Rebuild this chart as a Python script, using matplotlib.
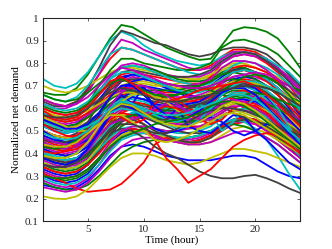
import numpy as np
import matplotlib
matplotlib.use('Agg')
import matplotlib.pyplot as plt

# hourly normalized net demand profiles, one list per day
hours = list(range(1, 25))

# MATLAB (pre-2014) line colour order: b, g, r, c, m, y, k
colors = [(0, 0, 1), (0, 0.5, 0), (1, 0, 0), (0, 0.75, 0.75),
          (0.75, 0, 0.75), (0.75, 0.75, 0), (0.25, 0.25, 0.25)]

profiles = [
    # group 1
    [0.55, 0.53, 0.52, 0.53, 0.57, 0.64, 0.70, 0.74, 0.75, 0.74, 0.72, 0.70, 0.68, 0.66, 0.65, 0.67, 0.72, 0.76, 0.77, 0.76, 0.73, 0.69, 0.64, 0.58],
    [0.67, 0.66, 0.66, 0.69, 0.75, 0.83, 0.91, 0.97, 0.96, 0.93, 0.90, 0.87, 0.85, 0.83, 0.815, 0.82, 0.88, 0.945, 0.96, 0.955, 0.94, 0.91, 0.85, 0.78],
    [0.64, 0.62, 0.61, 0.63, 0.68, 0.75, 0.82, 0.87, 0.86, 0.84, 0.82, 0.80, 0.78, 0.77, 0.77, 0.79, 0.83, 0.86, 0.86, 0.85, 0.82, 0.78, 0.73, 0.67],
    [0.73, 0.70, 0.69, 0.71, 0.76, 0.83, 0.90, 0.94, 0.92, 0.88, 0.85, 0.83, 0.81, 0.80, 0.79, 0.80, 0.83, 0.85, 0.85, 0.84, 0.81, 0.77, 0.72, 0.66],
    [0.62, 0.60, 0.60, 0.62, 0.67, 0.75, 0.84, 0.905, 0.89, 0.86, 0.84, 0.82, 0.80, 0.78, 0.77, 0.78, 0.82, 0.85, 0.85, 0.84, 0.82, 0.78, 0.74, 0.69],
    [0.70, 0.68, 0.67, 0.68, 0.70, 0.73, 0.76, 0.78, 0.78, 0.77, 0.76, 0.75, 0.74, 0.73, 0.73, 0.74, 0.77, 0.79, 0.79, 0.78, 0.76, 0.74, 0.71, 0.68],
    [0.63, 0.61, 0.61, 0.63, 0.69, 0.78, 0.88, 0.945, 0.93, 0.91, 0.89, 0.88, 0.86, 0.84, 0.83, 0.84, 0.86, 0.87, 0.87, 0.86, 0.84, 0.80, 0.75, 0.70],
    # group 2
    [0.45, 0.43, 0.42, 0.43, 0.47, 0.55, 0.65, 0.73, 0.75, 0.74, 0.71, 0.69, 0.67, 0.65, 0.64, 0.65, 0.69, 0.73, 0.74, 0.73, 0.70, 0.66, 0.60, 0.54],
    [0.58, 0.56, 0.55, 0.57, 0.62, 0.70, 0.77, 0.82, 0.82, 0.80, 0.79, 0.78, 0.77, 0.77, 0.78, 0.80, 0.87, 0.90, 0.905, 0.89, 0.87, 0.84, 0.79, 0.74],
    [0.55, 0.52, 0.51, 0.52, 0.56, 0.62, 0.69, 0.73, 0.72, 0.70, 0.68, 0.67, 0.67, 0.68, 0.70, 0.74, 0.80, 0.83, 0.84, 0.83, 0.80, 0.76, 0.70, 0.64],
    [0.66, 0.64, 0.63, 0.65, 0.70, 0.77, 0.84, 0.87, 0.86, 0.84, 0.82, 0.80, 0.78, 0.76, 0.75, 0.76, 0.80, 0.84, 0.85, 0.84, 0.82, 0.79, 0.76, 0.71],
    [0.60, 0.58, 0.57, 0.58, 0.62, 0.68, 0.74, 0.79, 0.80, 0.79, 0.77, 0.75, 0.74, 0.74, 0.74, 0.76, 0.80, 0.83, 0.84, 0.83, 0.81, 0.77, 0.73, 0.68],
    [0.54, 0.52, 0.51, 0.52, 0.56, 0.61, 0.66, 0.70, 0.71, 0.71, 0.70, 0.70, 0.71, 0.72, 0.73, 0.75, 0.78, 0.80, 0.80, 0.78, 0.76, 0.72, 0.67, 0.62],
    [0.50, 0.48, 0.47, 0.49, 0.54, 0.62, 0.70, 0.76, 0.77, 0.76, 0.75, 0.74, 0.74, 0.74, 0.75, 0.77, 0.81, 0.84, 0.85, 0.84, 0.81, 0.77, 0.72, 0.66],
    # group 3
    [0.52, 0.50, 0.49, 0.50, 0.53, 0.58, 0.64, 0.68, 0.70, 0.70, 0.69, 0.68, 0.67, 0.67, 0.68, 0.70, 0.74, 0.77, 0.78, 0.76, 0.73, 0.69, 0.63, 0.57],
    [0.66, 0.64, 0.63, 0.64, 0.67, 0.71, 0.75, 0.78, 0.79, 0.78, 0.77, 0.75, 0.73, 0.72, 0.72, 0.73, 0.76, 0.78, 0.78, 0.76, 0.74, 0.72, 0.70, 0.68],
    [0.60, 0.58, 0.57, 0.58, 0.61, 0.66, 0.71, 0.75, 0.76, 0.75, 0.74, 0.73, 0.72, 0.71, 0.71, 0.72, 0.75, 0.78, 0.79, 0.78, 0.76, 0.72, 0.67, 0.62],
    [0.58, 0.56, 0.55, 0.56, 0.60, 0.66, 0.73, 0.78, 0.79, 0.78, 0.76, 0.74, 0.72, 0.71, 0.70, 0.71, 0.75, 0.79, 0.81, 0.80, 0.78, 0.75, 0.71, 0.65],
    [0.50, 0.48, 0.47, 0.48, 0.52, 0.58, 0.66, 0.72, 0.74, 0.73, 0.72, 0.71, 0.70, 0.70, 0.71, 0.73, 0.78, 0.81, 0.81, 0.80, 0.77, 0.73, 0.68, 0.62],
    [0.48, 0.46, 0.45, 0.46, 0.50, 0.57, 0.64, 0.70, 0.72, 0.72, 0.71, 0.70, 0.69, 0.69, 0.69, 0.70, 0.73, 0.76, 0.77, 0.76, 0.74, 0.71, 0.67, 0.62],
    [0.57, 0.55, 0.54, 0.55, 0.58, 0.63, 0.68, 0.72, 0.73, 0.73, 0.72, 0.71, 0.70, 0.70, 0.70, 0.72, 0.75, 0.77, 0.77, 0.76, 0.74, 0.71, 0.68, 0.64],
    # group 4
    [0.40, 0.38, 0.37, 0.38, 0.42, 0.50, 0.60, 0.68, 0.72, 0.73, 0.72, 0.70, 0.68, 0.66, 0.65, 0.66, 0.68, 0.70, 0.70, 0.68, 0.65, 0.60, 0.55, 0.49],
    [0.47, 0.45, 0.44, 0.45, 0.48, 0.54, 0.60, 0.65, 0.67, 0.68, 0.68, 0.68, 0.68, 0.69, 0.70, 0.72, 0.75, 0.76, 0.75, 0.73, 0.70, 0.66, 0.61, 0.56],
    [0.50, 0.48, 0.47, 0.48, 0.51, 0.56, 0.62, 0.66, 0.67, 0.66, 0.65, 0.64, 0.63, 0.63, 0.63, 0.65, 0.69, 0.72, 0.73, 0.72, 0.70, 0.66, 0.61, 0.56],
    [0.45, 0.43, 0.42, 0.43, 0.46, 0.52, 0.59, 0.64, 0.66, 0.66, 0.65, 0.64, 0.63, 0.62, 0.62, 0.64, 0.68, 0.71, 0.72, 0.71, 0.68, 0.64, 0.59, 0.53],
    [0.56, 0.54, 0.53, 0.54, 0.57, 0.61, 0.65, 0.68, 0.69, 0.68, 0.67, 0.66, 0.65, 0.65, 0.66, 0.68, 0.71, 0.74, 0.75, 0.74, 0.72, 0.69, 0.65, 0.61],
    [0.42, 0.40, 0.39, 0.40, 0.44, 0.51, 0.58, 0.63, 0.65, 0.64, 0.62, 0.60, 0.58, 0.57, 0.57, 0.58, 0.62, 0.66, 0.67, 0.66, 0.64, 0.60, 0.56, 0.51],
    [0.44, 0.42, 0.41, 0.42, 0.46, 0.53, 0.61, 0.67, 0.69, 0.68, 0.66, 0.64, 0.62, 0.61, 0.60, 0.61, 0.64, 0.67, 0.68, 0.67, 0.65, 0.62, 0.58, 0.53],
    # group 5
    [0.36, 0.34, 0.33, 0.34, 0.38, 0.46, 0.56, 0.64, 0.68, 0.66, 0.62, 0.60, 0.59, 0.58, 0.58, 0.60, 0.63, 0.66, 0.66, 0.64, 0.60, 0.55, 0.49, 0.44],
    [0.40, 0.38, 0.37, 0.38, 0.41, 0.47, 0.54, 0.59, 0.62, 0.62, 0.61, 0.60, 0.60, 0.60, 0.61, 0.63, 0.66, 0.68, 0.68, 0.66, 0.63, 0.58, 0.53, 0.48],
    [0.46, 0.44, 0.43, 0.44, 0.47, 0.52, 0.58, 0.62, 0.63, 0.62, 0.60, 0.58, 0.57, 0.57, 0.58, 0.60, 0.64, 0.67, 0.68, 0.66, 0.63, 0.59, 0.54, 0.49],
    [0.52, 0.50, 0.49, 0.50, 0.53, 0.57, 0.61, 0.64, 0.64, 0.63, 0.61, 0.59, 0.58, 0.58, 0.59, 0.62, 0.67, 0.70, 0.70, 0.68, 0.64, 0.58, 0.52, 0.46],
    [0.43, 0.41, 0.40, 0.41, 0.44, 0.49, 0.55, 0.59, 0.60, 0.60, 0.59, 0.58, 0.58, 0.58, 0.59, 0.61, 0.64, 0.66, 0.66, 0.65, 0.62, 0.58, 0.54, 0.50],
    [0.38, 0.36, 0.35, 0.36, 0.40, 0.47, 0.55, 0.60, 0.61, 0.59, 0.56, 0.54, 0.52, 0.51, 0.51, 0.53, 0.56, 0.59, 0.60, 0.59, 0.57, 0.54, 0.50, 0.46],
    [0.53, 0.51, 0.50, 0.51, 0.54, 0.58, 0.62, 0.65, 0.65, 0.64, 0.63, 0.62, 0.61, 0.61, 0.62, 0.64, 0.68, 0.70, 0.70, 0.69, 0.66, 0.63, 0.59, 0.55],
    # group 6
    [0.33, 0.31, 0.30, 0.31, 0.35, 0.42, 0.50, 0.56, 0.58, 0.58, 0.57, 0.56, 0.55, 0.55, 0.56, 0.58, 0.62, 0.64, 0.64, 0.62, 0.58, 0.53, 0.47, 0.42],
    [0.35, 0.33, 0.32, 0.33, 0.36, 0.41, 0.47, 0.52, 0.55, 0.56, 0.56, 0.56, 0.56, 0.57, 0.58, 0.60, 0.62, 0.63, 0.62, 0.60, 0.57, 0.53, 0.49, 0.45],
    [0.39, 0.37, 0.36, 0.37, 0.40, 0.46, 0.53, 0.58, 0.60, 0.59, 0.57, 0.55, 0.53, 0.52, 0.52, 0.54, 0.58, 0.62, 0.63, 0.62, 0.59, 0.55, 0.50, 0.45],
    [0.40, 0.38, 0.37, 0.38, 0.41, 0.46, 0.52, 0.56, 0.58, 0.58, 0.57, 0.56, 0.55, 0.54, 0.55, 0.57, 0.61, 0.64, 0.65, 0.64, 0.61, 0.57, 0.52, 0.47],
    [0.37, 0.35, 0.34, 0.35, 0.38, 0.43, 0.49, 0.54, 0.56, 0.56, 0.55, 0.54, 0.53, 0.53, 0.54, 0.56, 0.59, 0.62, 0.62, 0.61, 0.58, 0.54, 0.49, 0.44],
    [0.50, 0.48, 0.47, 0.47, 0.49, 0.52, 0.55, 0.57, 0.57, 0.56, 0.55, 0.54, 0.54, 0.54, 0.55, 0.57, 0.60, 0.62, 0.62, 0.61, 0.59, 0.56, 0.53, 0.50],
    [0.34, 0.32, 0.31, 0.32, 0.35, 0.41, 0.48, 0.54, 0.57, 0.58, 0.57, 0.56, 0.55, 0.54, 0.54, 0.55, 0.57, 0.59, 0.59, 0.58, 0.56, 0.53, 0.49, 0.45],
    # group 7
    [0.30, 0.28, 0.27, 0.28, 0.31, 0.37, 0.44, 0.49, 0.51, 0.50, 0.48, 0.46, 0.45, 0.45, 0.46, 0.48, 0.52, 0.55, 0.56, 0.55, 0.52, 0.48, 0.43, 0.38],
    [0.31, 0.29, 0.28, 0.29, 0.32, 0.37, 0.43, 0.48, 0.50, 0.50, 0.49, 0.48, 0.47, 0.47, 0.48, 0.50, 0.53, 0.55, 0.55, 0.54, 0.51, 0.47, 0.43, 0.39],
    [0.34, 0.32, 0.31, 0.32, 0.35, 0.40, 0.46, 0.50, 0.51, 0.50, 0.48, 0.46, 0.45, 0.44, 0.45, 0.47, 0.50, 0.53, 0.54, 0.53, 0.50, 0.46, 0.42, 0.38],
    [0.36, 0.34, 0.33, 0.34, 0.37, 0.42, 0.47, 0.51, 0.52, 0.52, 0.51, 0.50, 0.49, 0.49, 0.50, 0.52, 0.56, 0.59, 0.60, 0.59, 0.56, 0.51, 0.45, 0.38],
    [0.28, 0.26, 0.25, 0.26, 0.29, 0.35, 0.42, 0.47, 0.49, 0.49, 0.48, 0.47, 0.46, 0.46, 0.47, 0.49, 0.52, 0.54, 0.54, 0.53, 0.50, 0.46, 0.42, 0.38],
    [0.32, 0.30, 0.29, 0.30, 0.33, 0.38, 0.44, 0.48, 0.50, 0.50, 0.49, 0.47, 0.45, 0.44, 0.44, 0.45, 0.48, 0.51, 0.52, 0.51, 0.49, 0.46, 0.43, 0.40],
    [0.42, 0.40, 0.39, 0.40, 0.43, 0.48, 0.53, 0.56, 0.57, 0.56, 0.54, 0.52, 0.50, 0.49, 0.49, 0.50, 0.53, 0.55, 0.55, 0.54, 0.52, 0.49, 0.46, 0.43],
    # group 8 (lowest days)
    [0.26, 0.25, 0.24, 0.25, 0.28, 0.33, 0.39, 0.43, 0.44, 0.43, 0.41, 0.39, 0.38, 0.37, 0.37, 0.37, 0.38, 0.39, 0.39, 0.38, 0.35, 0.32, 0.30, 0.29],
    [0.27, 0.25, 0.24, 0.24, 0.26, 0.30, 0.35, 0.40, 0.43, 0.45, 0.46, 0.46, 0.46, 0.47, 0.48, 0.50, 0.52, 0.53, 0.52, 0.50, 0.47, 0.44, 0.40, 0.36],
    [0.31, 0.29, 0.27, 0.245, 0.23, 0.235, 0.24, 0.265, 0.31, 0.36, 0.44, 0.47, 0.46, 0.45, 0.46, 0.48, 0.52, 0.55, 0.56, 0.55, 0.52, 0.48, 0.44, 0.40],
    [0.29, 0.27, 0.26, 0.27, 0.30, 0.35, 0.41, 0.46, 0.48, 0.49, 0.49, 0.48, 0.47, 0.47, 0.48, 0.50, 0.53, 0.55, 0.54, 0.51, 0.46, 0.39, 0.31, 0.24],
    [0.25, 0.24, 0.23, 0.24, 0.27, 0.32, 0.38, 0.43, 0.46, 0.47, 0.47, 0.46, 0.45, 0.44, 0.44, 0.45, 0.47, 0.49, 0.50, 0.49, 0.47, 0.44, 0.40, 0.36],
    [0.21, 0.20, 0.198, 0.21, 0.24, 0.29, 0.34, 0.38, 0.40, 0.40, 0.39, 0.37, 0.36, 0.35, 0.36, 0.38, 0.40, 0.42, 0.42, 0.41, 0.40, 0.38, 0.36, 0.34],
    [0.38, 0.36, 0.35, 0.36, 0.39, 0.44, 0.49, 0.51, 0.50, 0.47, 0.43, 0.40, 0.38, 0.35, 0.32, 0.30, 0.29, 0.29, 0.30, 0.305, 0.29, 0.27, 0.245, 0.225],
    # group 9
    [0.48, 0.46, 0.45, 0.46, 0.50, 0.57, 0.65, 0.70, 0.71, 0.69, 0.66, 0.63, 0.61, 0.59, 0.58, 0.59, 0.62, 0.64, 0.64, 0.63, 0.60, 0.56, 0.51, 0.46],
    [0.55, 0.53, 0.52, 0.53, 0.56, 0.60, 0.64, 0.67, 0.68, 0.67, 0.66, 0.66, 0.66, 0.67, 0.68, 0.70, 0.72, 0.73, 0.72, 0.71, 0.69, 0.67, 0.65, 0.63],
    [0.44, 0.42, 0.41, 0.42, 0.45, 0.50, 0.55, 0.58, 0.57, 0.53, 0.46, 0.38, 0.33, 0.27, 0.30, 0.33, 0.38, 0.43, 0.46, 0.48, 0.49, 0.48, 0.46, 0.44],
    [0.47, 0.45, 0.44, 0.45, 0.48, 0.54, 0.60, 0.64, 0.65, 0.64, 0.62, 0.60, 0.59, 0.58, 0.58, 0.60, 0.64, 0.67, 0.67, 0.65, 0.62, 0.57, 0.51, 0.45],
    [0.45, 0.43, 0.42, 0.43, 0.46, 0.51, 0.56, 0.60, 0.61, 0.60, 0.58, 0.56, 0.55, 0.55, 0.56, 0.58, 0.63, 0.66, 0.66, 0.65, 0.63, 0.61, 0.58, 0.55],
    [0.36, 0.34, 0.33, 0.34, 0.37, 0.43, 0.50, 0.55, 0.55, 0.53, 0.50, 0.48, 0.46, 0.45, 0.45, 0.47, 0.51, 0.54, 0.55, 0.54, 0.52, 0.49, 0.46, 0.43],
    [0.39, 0.37, 0.36, 0.37, 0.40, 0.45, 0.51, 0.55, 0.55, 0.53, 0.50, 0.48, 0.46, 0.45, 0.45, 0.47, 0.51, 0.54, 0.55, 0.54, 0.52, 0.49, 0.45, 0.41],
    # group 10
    [0.42, 0.40, 0.39, 0.40, 0.43, 0.49, 0.57, 0.63, 0.65, 0.64, 0.62, 0.61, 0.61, 0.62, 0.63, 0.66, 0.70, 0.72, 0.71, 0.69, 0.65, 0.60, 0.55, 0.50],
    [0.38, 0.36, 0.35, 0.36, 0.39, 0.44, 0.50, 0.55, 0.57, 0.57, 0.56, 0.55, 0.54, 0.54, 0.55, 0.57, 0.61, 0.64, 0.65, 0.64, 0.62, 0.60, 0.57, 0.54],
    [0.57, 0.55, 0.54, 0.55, 0.58, 0.62, 0.66, 0.69, 0.69, 0.68, 0.66, 0.64, 0.63, 0.63, 0.64, 0.67, 0.72, 0.76, 0.77, 0.75, 0.72, 0.68, 0.63, 0.58],
    [0.62, 0.60, 0.59, 0.60, 0.63, 0.68, 0.73, 0.76, 0.76, 0.74, 0.72, 0.70, 0.68, 0.67, 0.67, 0.69, 0.73, 0.76, 0.77, 0.76, 0.73, 0.69, 0.64, 0.59],
    [0.32, 0.30, 0.29, 0.30, 0.33, 0.38, 0.45, 0.50, 0.52, 0.52, 0.51, 0.50, 0.50, 0.51, 0.52, 0.54, 0.57, 0.59, 0.59, 0.58, 0.55, 0.51, 0.47, 0.43],
    [0.59, 0.57, 0.56, 0.57, 0.59, 0.62, 0.65, 0.67, 0.67, 0.66, 0.65, 0.64, 0.64, 0.64, 0.65, 0.67, 0.70, 0.72, 0.72, 0.71, 0.70, 0.68, 0.65, 0.62],
    [0.47, 0.45, 0.44, 0.45, 0.48, 0.53, 0.58, 0.61, 0.62, 0.61, 0.60, 0.59, 0.59, 0.60, 0.61, 0.63, 0.67, 0.70, 0.71, 0.70, 0.67, 0.63, 0.58, 0.53],
    # group 11 (irregular days)
    [0.50, 0.47, 0.45, 0.44, 0.46, 0.52, 0.60, 0.66, 0.62, 0.70, 0.58, 0.55, 0.60, 0.52, 0.50, 0.49, 0.53, 0.57, 0.56, 0.50, 0.46, 0.41, 0.36, 0.33],
    [0.43, 0.42, 0.43, 0.46, 0.52, 0.58, 0.62, 0.63, 0.60, 0.58, 0.57, 0.59, 0.62, 0.64, 0.65, 0.66, 0.68, 0.71, 0.74, 0.75, 0.74, 0.71, 0.66, 0.60],
    [0.53, 0.50, 0.48, 0.47, 0.49, 0.53, 0.60, 0.64, 0.61, 0.57, 0.62, 0.66, 0.64, 0.60, 0.58, 0.62, 0.66, 0.64, 0.60, 0.66, 0.62, 0.57, 0.52, 0.47],
    [0.41, 0.39, 0.38, 0.40, 0.45, 0.53, 0.61, 0.64, 0.62, 0.59, 0.57, 0.55, 0.54, 0.56, 0.62, 0.58, 0.50, 0.54, 0.60, 0.65, 0.66, 0.60, 0.52, 0.44],
    [0.35, 0.34, 0.34, 0.36, 0.41, 0.48, 0.53, 0.55, 0.55, 0.57, 0.60, 0.62, 0.61, 0.59, 0.57, 0.58, 0.62, 0.64, 0.63, 0.60, 0.57, 0.53, 0.48, 0.43],
    [0.56, 0.54, 0.52, 0.50, 0.50, 0.53, 0.58, 0.63, 0.66, 0.67, 0.66, 0.63, 0.59, 0.57, 0.55, 0.55, 0.57, 0.59, 0.58, 0.56, 0.53, 0.50, 0.47, 0.44],
    [0.46, 0.45, 0.45, 0.47, 0.50, 0.55, 0.59, 0.61, 0.60, 0.58, 0.55, 0.55, 0.57, 0.60, 0.62, 0.63, 0.61, 0.58, 0.56, 0.54, 0.53, 0.52, 0.50, 0.48],
    # group 12
    [0.38, 0.36, 0.35, 0.37, 0.42, 0.50, 0.58, 0.62, 0.60, 0.55, 0.51, 0.49, 0.50, 0.52, 0.55, 0.56, 0.54, 0.50, 0.48, 0.50, 0.53, 0.52, 0.47, 0.41],
    [0.61, 0.59, 0.58, 0.59, 0.62, 0.67, 0.71, 0.73, 0.71, 0.68, 0.66, 0.65, 0.66, 0.68, 0.69, 0.68, 0.66, 0.65, 0.66, 0.67, 0.66, 0.64, 0.62, 0.60],
    [0.41, 0.40, 0.41, 0.44, 0.50, 0.56, 0.58, 0.56, 0.53, 0.55, 0.59, 0.61, 0.60, 0.57, 0.55, 0.53, 0.55, 0.60, 0.62, 0.61, 0.58, 0.53, 0.47, 0.41],
    [0.54, 0.52, 0.50, 0.50, 0.52, 0.55, 0.58, 0.60, 0.59, 0.57, 0.55, 0.53, 0.51, 0.52, 0.55, 0.60, 0.66, 0.70, 0.72, 0.72, 0.70, 0.68, 0.64, 0.60],
    [0.47, 0.45, 0.44, 0.44, 0.47, 0.53, 0.61, 0.67, 0.70, 0.70, 0.68, 0.66, 0.62, 0.58, 0.55, 0.55, 0.58, 0.61, 0.61, 0.58, 0.55, 0.51, 0.47, 0.44],
    [0.44, 0.43, 0.43, 0.45, 0.49, 0.53, 0.57, 0.57, 0.54, 0.50, 0.46, 0.45, 0.46, 0.48, 0.51, 0.54, 0.57, 0.58, 0.57, 0.54, 0.51, 0.48, 0.45, 0.42],
    [0.35, 0.34, 0.34, 0.36, 0.40, 0.45, 0.50, 0.53, 0.53, 0.51, 0.49, 0.49, 0.51, 0.54, 0.57, 0.59, 0.60, 0.60, 0.59, 0.57, 0.55, 0.52, 0.49, 0.46],
    # group 13
    [0.55, 0.53, 0.51, 0.51, 0.53, 0.58, 0.65, 0.70, 0.70, 0.66, 0.61, 0.57, 0.55, 0.56, 0.59, 0.63, 0.67, 0.69, 0.69, 0.66, 0.61, 0.55, 0.49, 0.44],
    [0.30, 0.29, 0.29, 0.30, 0.33, 0.38, 0.43, 0.47, 0.49, 0.51, 0.53, 0.54, 0.55, 0.56, 0.58, 0.61, 0.63, 0.63, 0.61, 0.58, 0.54, 0.50, 0.46, 0.42],
    [0.59, 0.56, 0.55, 0.56, 0.60, 0.66, 0.72, 0.74, 0.71, 0.67, 0.64, 0.63, 0.64, 0.66, 0.68, 0.69, 0.70, 0.71, 0.72, 0.70, 0.66, 0.62, 0.57, 0.52],
    [0.49, 0.47, 0.46, 0.47, 0.50, 0.55, 0.60, 0.63, 0.62, 0.60, 0.58, 0.57, 0.57, 0.58, 0.60, 0.62, 0.64, 0.66, 0.66, 0.64, 0.60, 0.55, 0.50, 0.46],
    [0.64, 0.62, 0.61, 0.62, 0.65, 0.70, 0.75, 0.78, 0.77, 0.75, 0.73, 0.71, 0.70, 0.69, 0.69, 0.70, 0.72, 0.74, 0.75, 0.76, 0.75, 0.73, 0.70, 0.66],
    [0.39, 0.38, 0.38, 0.40, 0.45, 0.52, 0.59, 0.62, 0.61, 0.58, 0.55, 0.53, 0.52, 0.52, 0.54, 0.57, 0.61, 0.63, 0.62, 0.59, 0.55, 0.51, 0.47, 0.43],
    [0.57, 0.56, 0.56, 0.57, 0.60, 0.64, 0.67, 0.69, 0.68, 0.66, 0.64, 0.63, 0.63, 0.64, 0.65, 0.66, 0.68, 0.69, 0.70, 0.70, 0.69, 0.67, 0.64, 0.61],
]

xticks = [5, 10, 15, 20]
yticks = [0.1, 0.2, 0.3, 0.4, 0.5, 0.6, 0.7, 0.8, 0.9, 1.0]
ytick_labels = ['0.1', '0.2', '0.3', '0.4', '0.5', '0.6', '0.7', '0.8', '0.9', '1']

plt.rcParams['font.family'] = ['Liberation Serif', 'DejaVu Serif']

fig = plt.figure(figsize=(3.32, 2.49), dpi=100)
ax = fig.add_axes([0.13, 0.112, 0.774, 0.815])

for i, prof in enumerate(profiles):
    ax.plot(hours, prof, color=colors[i % len(colors)], lw=1.3)

ax.set_xlim(1, 24)
ax.set_ylim(0.1, 1.0)
ax.set_xticks(xticks)
ax.set_yticks(yticks)
ax.set_yticklabels(ytick_labels)
ax.tick_params(direction='in', length=2.5, width=0.5, labelsize=8,
               top=True, right=True, colors='#262626', pad=3)
for sp in ax.spines.values():
    sp.set_linewidth(0.8)
    sp.set_color('#262626')
ax.set_xlabel('Time (hour)', fontsize=8, labelpad=1)
ax.set_ylabel('Normalized net demand', fontsize=8, labelpad=3)

fig.savefig('out.png', dpi=100)
